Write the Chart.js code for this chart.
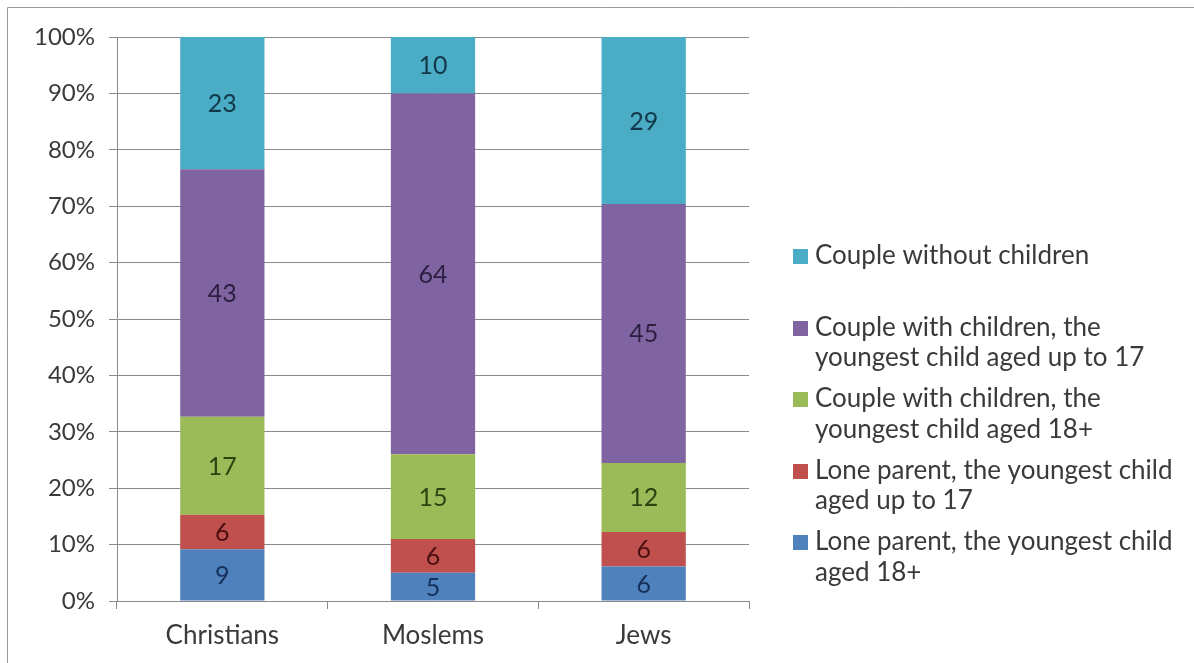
<!DOCTYPE html>
<html>
<head>
<meta charset="utf-8">
<script src="https://cdn.jsdelivr.net/npm/chart.js@4"></script>
<style>
html,body{margin:0;padding:0;background:#fff;}
#wrap{width:1194px;height:663px;position:relative;}
</style>
</head>
<body>
<div id="wrap"><canvas id="c" width="1194" height="663"></canvas></div>
<script>
const categories = ["Christians", "Moslems", "Jews"];
const loneParent18 = [9, 5, 6];
const loneParentUpTo17 = [6, 6, 6];
const coupleChildren18 = [17, 15, 12];
const coupleChildrenUpTo17 = [43, 64, 45];
const coupleWithoutChildren = [23, 10, 29];
const yTickLabels = ["0%","10%","20%","30%","40%","50%","60%","70%","80%","90%","100%"];

const seriesNames = [
  ["Lone parent, the youngest child", "aged 18+"],
  ["Lone parent, the youngest child", "aged up to 17"],
  ["Couple with children, the", "youngest child aged 18+"],
  ["Couple with children, the", "youngest child aged up to 17"],
  ["Couple without children"]
];
const seriesRaw = [loneParent18, loneParentUpTo17, coupleChildren18, coupleChildrenUpTo17, coupleWithoutChildren];
const colors = ["#4F81BD", "#C0504D", "#9BBB59", "#8064A2", "#4BACC6"];
const labelColors = ["#14305a", "#4a1010", "#2f4212", "#2a1f40", "#12384a"];

const totals = categories.map((_, i) => seriesRaw.reduce((s, arr) => s + arr[i], 0));
const datasets = seriesRaw.map((arr, k) => ({
  label: seriesNames[k].join(" "),
  data: arr.map((v, i) => v / totals[i] * 100),
  raw: arr,
  backgroundColor: colors[k],
  borderWidth: 0,
  barPercentage: 0.8,
  categoryPercentage: 0.5
}));

const FONT = "Lato, 'Open Sans', sans-serif";
const TEXT = "#3a3a3a";
const GRID = "#8a8a8a";

const bgPlugin = {
  id: 'bg',
  beforeDraw(chart) {
    const ctx = chart.ctx;
    ctx.save();
    ctx.fillStyle = '#fff';
    ctx.fillRect(0, 0, chart.width, chart.height);
    ctx.strokeStyle = '#9a9a9a';
    ctx.lineWidth = 1;
    ctx.beginPath();
    ctx.moveTo(7.5, 663);
    ctx.lineTo(7.5, 7.5);
    ctx.lineTo(1194, 7.5);
    ctx.stroke();
    ctx.restore();
  }
};

const labelPlugin = {
  id: 'segLabels',
  afterDatasetsDraw(chart) {
    const ctx = chart.ctx;
    ctx.save();
    ctx.font = "25px " + FONT;
    ctx.textAlign = 'center';
    ctx.textBaseline = 'middle';
    chart.data.datasets.forEach((ds, k) => {
      const meta = chart.getDatasetMeta(k);
      meta.data.forEach((bar, i) => {
        const p = bar.getCenterPoint();
        ctx.fillStyle = labelColors[k];
        ctx.fillText(String(ds.raw[i]), p.x, p.y + 1);
      });
    });
    ctx.restore();
  }
};

const legendPlugin = {
  id: 'sideLegend',
  afterDraw(chart) {
    const ctx = chart.ctx;
    ctx.save();
    ctx.font = "26px " + FONT;
    ctx.textAlign = 'left';
    ctx.textBaseline = 'middle';
    const order = [4, 3, 2, 1, 0];
    const startY = 256, step = 71.5, lh = 30.5;
    order.forEach((k, j) => {
      const y0 = startY + j * step;
      ctx.fillStyle = colors[k];
      ctx.fillRect(793, Math.round(y0 - 7), 15, 15);
      ctx.fillStyle = TEXT;
      seriesNames[k].forEach((line, l) => {
        ctx.fillText(line, 815, y0 + l * lh);
      });
    });
    ctx.restore();
  }
};

new Chart(document.getElementById('c'), {
  type: 'bar',
  data: { labels: categories, datasets },
  options: {
    responsive: false,
    animation: false,
    devicePixelRatio: 1,
    layout: { padding: { left: 0, top: 37, right: 445, bottom: 0 } },
    plugins: { legend: { display: false }, tooltip: { enabled: false } },
    scales: {
      x: {
        stacked: true,
        afterFit(s) { s.height = 62; },
        grid: { display: true, drawOnChartArea: false, drawTicks: true, tickLength: 8, color: GRID, offset: true },
        border: { display: true, color: GRID, width: 1 },
        ticks: { font: { family: FONT, size: 26 }, color: TEXT, padding: 11 }
      },
      y: {
        stacked: true,
        min: 0, max: 100,
        afterFit(s) { s.width = 117; },
        grid: { color: GRID, tickLength: 8, drawTicks: true },
        border: { display: true, color: GRID, width: 1 },
        ticks: {
          stepSize: 10,
          font: { family: FONT, size: 24 },
          color: TEXT,
          padding: 14,
          callback: (v) => yTickLabels[Math.round(v / 10)]
        }
      }
    }
  },
  plugins: [bgPlugin, labelPlugin, legendPlugin]
});
</script>
</body>
</html>
